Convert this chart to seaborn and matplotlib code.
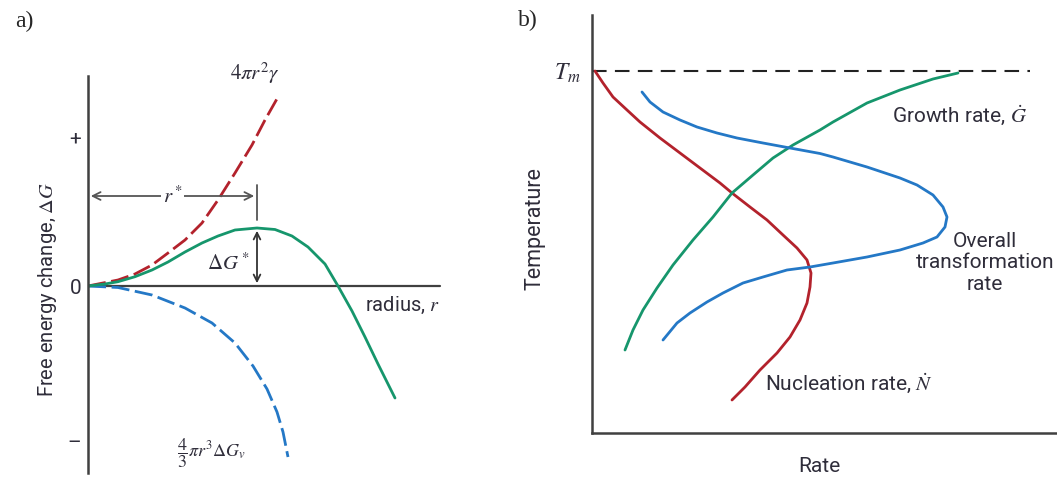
import numpy as np
import pandas as pd
import matplotlib
matplotlib.use('Agg')
import matplotlib.pyplot as plt
import seaborn as sns

# panel a) free energy vs radius (arbitrary units read off the picture)
r_surface = [0, 3.0, 4.7, 6.4, 8.0, 9.7, 11.4, 13.0, 14.7, 16.4, 17.7, 19.0]
g_surface = [0, 0.6, 1.2, 2.1, 3.3, 4.6, 6.3, 8.6, 11.3, 14.1, 16.6, 18.9]
r_volume = [0, 3.0, 6.4, 9.7, 12.4, 14.7, 16.5, 17.9, 18.9, 19.5, 20.0]
g_volume = [0, -0.15, -0.9, -2.2, -3.7, -5.7, -8.0, -10.3, -12.6, -14.6, -17.1]
r_total = [0, 1.7, 3.0, 4.7, 6.4, 8.0, 9.7, 11.4, 13.0, 14.7, 16.9, 18.7, 20.4, 22.0,
           23.7, 25.0, 26.4, 27.7, 29.0, 30.7]
g_total = [0, 0.2, 0.43, 0.93, 1.6, 2.4, 3.4, 4.3, 5.0, 5.6, 5.8, 5.65, 5.0, 3.9,
           2.2, 0, -2.5, -5.1, -7.8, -11.2]
r_star = 16.9
dg_star = 5.8
a_ticks = [14.9, 0, -15.6]
a_ticklabels = ['+', '0', '\u2013']

# panel b) temperature vs rate
nuc_rate = [0.3, 1.1, 2.1, 3.5, 4.8, 6.8, 8.8, 10.8, 12.8, 14.0, 15.8, 17.5, 19.1, 20.5,
            21.5, 21.9, 21.8, 21.5, 20.8, 19.8, 18.5, 16.8, 15.3, 14.0]
nuc_temp = [36.2, 35.0, 33.6, 32.3, 31.1, 29.5, 28.0, 26.5, 25.0, 24.0, 22.6, 21.3, 19.8, 18.5,
            17.3, 16.0, 14.6, 13.0, 11.3, 9.6, 8.0, 6.3, 4.6, 3.3]
gro_rate = [3.3, 4.1, 5.1, 6.5, 8.1, 10.1, 12.1, 14.0, 16.1, 18.1, 20.1, 22.8, 24.1,
            27.5, 30.8, 34.1, 36.6]
gro_temp = [8.3, 10.3, 12.3, 14.5, 16.8, 19.3, 21.6, 24.0, 25.8, 27.5, 28.8, 30.3, 31.1,
            33.0, 34.3, 35.4, 36.0]
ovr_rate = [5.0, 5.8, 7.1, 8.8, 10.5, 12.5, 14.5, 17.1, 19.8, 22.8, 24.1, 27.5, 30.8, 32.5,
            34.1, 35.1, 35.5, 35.3, 34.5, 33.1, 30.8, 27.5, 24.1, 21.8, 19.5, 17.1, 15.1,
            13.1, 11.5, 9.8, 8.5, 7.1]
ovr_temp = [34.1, 33.1, 32.1, 31.3, 30.6, 30.0, 29.5, 29.0, 28.5, 27.95, 27.6, 26.6, 25.5, 24.8,
            23.8, 22.6, 21.6, 20.6, 19.6, 19.0, 18.3, 17.6, 17.0, 16.6, 16.3, 15.6, 15.0,
            14.0, 13.1, 12.0, 11.0, 9.3]
t_melt = 36.2

RED = '#b3222c'
GREEN = '#16966c'
BLUE = '#2478c6'
TXT = '#2f2d3a'
AX = '#404040'

sns.set_style('white')
plt.rcParams['font.family'] = ['Roboto', 'DejaVu Sans']
plt.rcParams['mathtext.fontset'] = 'stix'
plt.rcParams['lines.solid_joinstyle'] = 'round'
plt.rcParams['lines.solid_capstyle'] = 'round'

fig = plt.figure(figsize=(10.57, 4.79), dpi=100)
W, H = 1057, 479

# ---------- a)
axa = fig.add_axes([88 / W, 6 / H, 362 / W, 443 / H])
sns.lineplot(x=r_surface, y=g_surface, sort=False, estimator=None, ax=axa, color=RED, linewidth=2)
axa.lines[-1].set_dashes((6.5, 2))
sns.lineplot(x=r_volume, y=g_volume, sort=False, estimator=None, ax=axa, color=BLUE, linewidth=2)
axa.lines[-1].set_dashes((6.5, 2))
sns.lineplot(x=r_total, y=g_total, sort=False, estimator=None, ax=axa, color=GREEN, linewidth=2)
axa.set_xlim(0, 36.2)
axa.set_ylim(-18.7, 25.6)
axa.axhline(0, xmin=0, xmax=35.2 / 36.2, color=AX, lw=1.6, zorder=1)
for s in ['top', 'right', 'bottom']:
    axa.spines[s].set_visible(False)
axa.spines['left'].set_bounds(-18.7, 21.0)
axa.spines['left'].set_color(AX)
axa.spines['left'].set_linewidth(1.8)
axa.set_xticks([])
axa.set_yticks(a_ticks)
axa.set_yticklabels(a_ticklabels)
axa.tick_params(axis='y', length=0, pad=5, labelsize=15, labelcolor=TXT)
axa.set_ylabel(r'Free energy change, $\Delta G$', fontsize=14.5, color=TXT)
axa.yaxis.set_label_coords(-0.08, 0.415)

# r* arrow and delta G* arrow
axa.annotate('', xy=(r_star, 9.0), xytext=(0, 9.0),
             arrowprops=dict(arrowstyle='<->', color='#555555', lw=1.3, mutation_scale=14))
axa.text(r_star / 2, 9.0, r'$r^*$', ha='center', va='center', fontsize=15, color=TXT,
         bbox=dict(facecolor='white', edgecolor='none', pad=1))
axa.plot([r_star, r_star], [6.6, 10.1], color='#555555', lw=1.3)
axa.annotate('', xy=(r_star, dg_star), xytext=(r_star, 0),
             arrowprops=dict(arrowstyle='<->', color='#333333', lw=1.3, mutation_scale=12))
axa.text(r_star - 0.7, 2.3, r'$\Delta G^*$', ha='right', va='center', fontsize=15, color=TXT)
axa.text(35.2, -1.9, r'radius, $r$', ha='right', va='center', fontsize=14.5, color=TXT)
axa.text(16.7, 21.3, r'$4\pi r^2\gamma$', ha='center', va='center', fontsize=15, color=TXT)
axa.text(8.9, -16.7, r'$\dfrac{4}{3}\pi r^3\Delta G_v$', ha='left', va='center', fontsize=13, color=TXT)

# ---------- b)
axb = fig.add_axes([592 / W, (479 - 433) / H, 465 / W, 418 / H])
sns.lineplot(x=nuc_rate, y=nuc_temp, sort=False, estimator=None, ax=axb, color=RED, linewidth=2)
sns.lineplot(x=gro_rate, y=gro_temp, sort=False, estimator=None, ax=axb, color=GREEN, linewidth=2)
sns.lineplot(x=ovr_rate, y=ovr_temp, sort=False, estimator=None, ax=axb, color=BLUE, linewidth=2)
axb.set_xlim(0, 46.5)
axb.set_ylim(0, 41.8)
axb.axhline(t_melt, xmin=0, xmax=43.8 / 46.5, color='#222222', lw=1.5, dashes=(7, 4), zorder=1)
for s in ['top', 'right']:
    axb.spines[s].set_visible(False)
for s in ['left', 'bottom']:
    axb.spines[s].set_color(AX)
    axb.spines[s].set_linewidth(1.8)
axb.set_xticks([])
axb.set_yticks([t_melt])
axb.set_yticklabels([r'$T_m$'])
axb.tick_params(axis='y', length=0, pad=8, labelsize=17, labelcolor=TXT)
axb.set_ylabel('Temperature', fontsize=15.5, color=TXT)
axb.yaxis.set_label_coords(-0.101, 0.49)
axb.set_xlabel('Rate', fontsize=15, color=TXT)
axb.xaxis.set_label_coords(0.49, -0.058)
axb.text(36.8, 31.8, r'Growth rate, $\dot{G}$', ha='center', va='center', fontsize=15, color=TXT)
axb.text(39.3, 17.0, 'Overall\ntransformation\nrate', ha='center', va='center', fontsize=15,
         color=TXT, linespacing=1.15)
axb.text(17.3, 5.0, r'Nucleation rate, $\dot{N}$', ha='left', va='center', fontsize=15, color=TXT)

fig.text(24 / W, 1 - 21 / H, 'a)', family='Liberation Serif', fontsize=17, ha='center', va='center')
fig.text(528 / W, 1 - 20 / H, 'b)', family='Liberation Serif', fontsize=17, ha='center', va='center')

fig.savefig('out.png', dpi=100)
